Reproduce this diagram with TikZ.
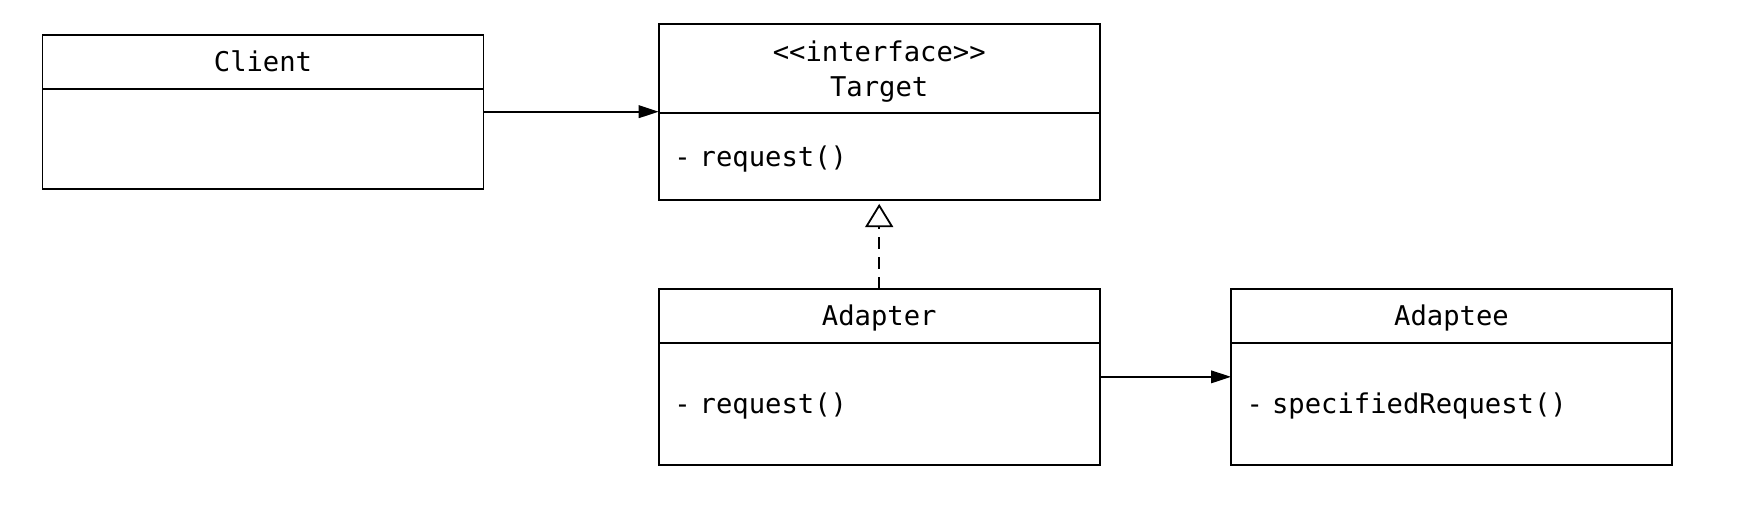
\documentclass[tikz,border=0pt]{standalone}
\usepackage{fontspec}
\setmonofont{DejaVu Sans Mono}
\usetikzlibrary{positioning,arrows.meta,calc}

\begin{document}
\begin{tikzpicture}[x=1pt,y=1pt,
  font=\ttfamily\fontsize{13.6}{17.7}\selectfont,
  line width=0.9pt,
  classhead/.style={draw,rectangle,inner sep=0pt,outer sep=0pt,minimum width=220.5pt,
    minimum height=27pt,text height=9.9pt,text depth=0pt,anchor=north west},
  classbody/.style={draw,rectangle,inner xsep=7.8pt,inner ysep=0pt,outer sep=0pt,
    text width=204.9pt,align=left,text height=9.9pt,text depth=0pt,below=0pt of #1},
  assoc/.style={-{Triangle[length=10pt,width=6.3pt]}},
  realize/.style={dash pattern=on 6pt off 4pt,
    -{Triangle[open,length=11.6pt,width=14pt,fill=white]},shorten >=1.8pt}
]
 \useasboundingbox (0,0) rectangle (872,-253); %全体の大きさ

 \node[classhead] (client) at (21.25,-17.35) {Client}; %クライアント
 \node[classbody=client,minimum height=50pt] (clientbody) {};

 \node[classhead,minimum height=44.65pt,text height={},text depth={},align=center]
   (target) at (329.35,-12) {<{}<interface>{}>\\\smash{Target}}; %インターフェース
 \node[classbody=target,minimum height=43.5pt] (targetbody) {- request()};

 \node[classhead] (adapter) at (329.35,-144.35) {Adapter}; %アダプタ
 \node[classbody=adapter,minimum height=61.15pt] (adapterbody) {- request()};

 \node[classhead] (adaptee) at (615.5,-144.35) {Adaptee}; %アダプティ
 \node[classbody=adaptee,minimum height=61.15pt] (adapteebody) {- specifiedRequest()};

 \coordinate (clientmid) at ($(client.north east)!.5!(clientbody.south east)$);
 \coordinate (adaptermid) at ($(adapter.north east)!.5!(adapterbody.south east)$);
 \draw[assoc] (clientmid) -- (clientmid -| target.west); %関連
 \draw[assoc] (adaptermid) -- (adaptermid -| adaptee.west); %関連
 \draw[realize] (adapter.north) -- (targetbody.south); %実現
\end{tikzpicture}
\end{document}
